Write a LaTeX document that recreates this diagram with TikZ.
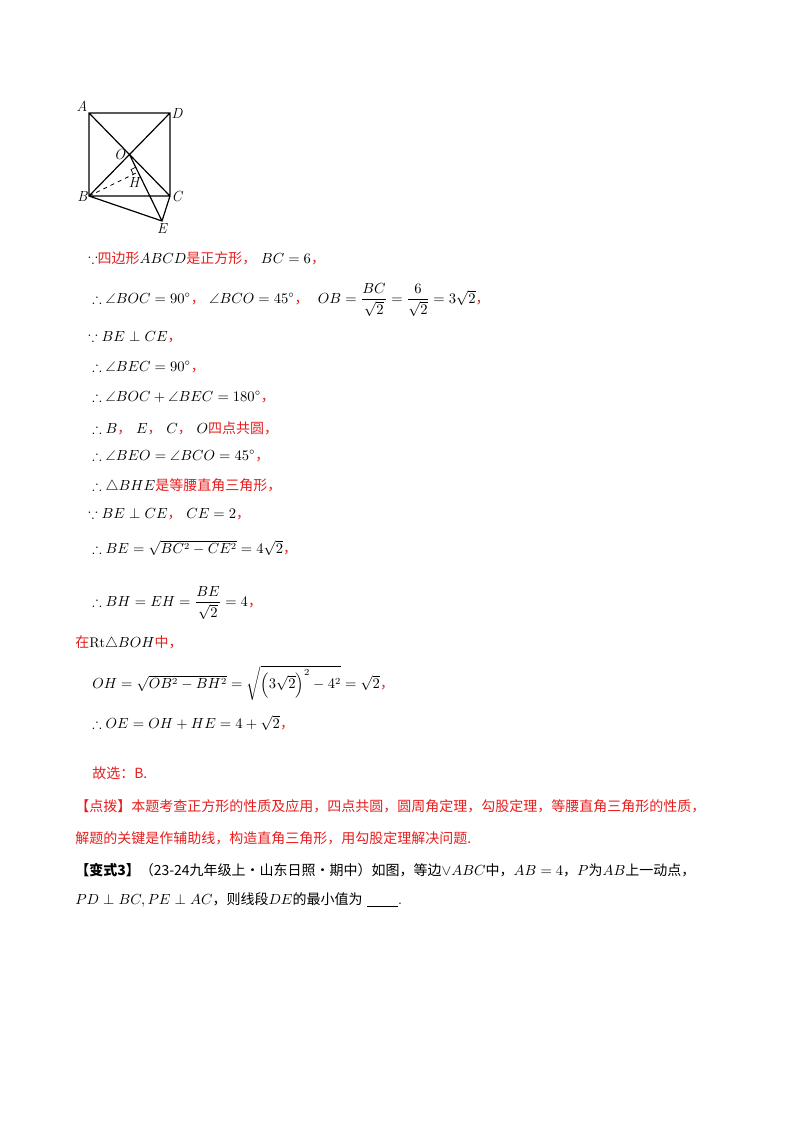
\documentclass[tikz,border=0pt]{standalone}
\usepackage{amsmath,amssymb}
\usepackage{fontspec}
\usetikzlibrary{calc}
\newfontfamily\cjk{Noto Sans CJK SC}
\definecolor{rd}{RGB}{230,30,30}
\newcommand{\R}[1]{{\color{rd}\cjk #1}}
\begin{document}
\begin{tikzpicture}[x=0.75pt,y=-0.75pt,
  ln/.style={anchor=west,inner sep=0pt,font=\fontsize{10.5}{12}\selectfont},
  lb/.style={font=\itshape\fontsize{11}{12}\selectfont,inner sep=1pt},
  seg/.style={line width=0.9pt}]
\useasboundingbox (0,0) rectangle (800,1132);
\coordinate (A) at (89,113); \coordinate (D) at (170,113);
\coordinate (B) at (89,196); \coordinate (C) at (170,196);
\coordinate (O) at (129.5,154.5); \coordinate (E) at (162,221);
\coordinate (H) at (138.1,172);
\draw[seg] (A)--(D)--(C)--(B)--cycle (A)--(C) (B)--(D) (O)--(E) (B)--(E)--(C);
\draw[dashed,line width=0.6pt] (B)--(H);
\coordinate (q1) at ($(H)!4pt!(O)$); \coordinate (q2) at ($(H)!4pt!(B)$);
\draw[line width=0.5pt] (q1) -- ($(q1)+(q2)-(H)$) -- (q2);
\path (A) node[lb,anchor=south east] {A} (D) node[lb,anchor=west] {D}
 (B) node[lb,anchor=east] {B} (C) node[lb,anchor=west] {C}
 (O) node[lb,anchor=east,xshift=-2pt] {O} (E) node[lb,anchor=north,yshift=-1pt] {E}
 (H) node[lb,anchor=north east,yshift=-3pt,xshift=2pt] {H};
\node[ln] (l1) at (88,258) {$\because$\R{四边形}$ABCD$\R{是正方形，}\ $BC=6$\R{，}};
\node[ln] (l2) at (92,300) {$\therefore\angle BOC=90^\circ$\R{，}\ $\angle BCO=45^\circ$\R{，}\ \ $OB=\dfrac{BC}{\sqrt2}=\dfrac{6}{\sqrt2}=3\sqrt2$\R{，}};
\node[ln] (l3) at (88,337) {$\because BE\perp CE$\R{，}};
\node[ln] (l4) at (92,367) {$\therefore\angle BEC=90^\circ$\R{，}};
\node[ln] (l5) at (92,397) {$\therefore\angle BOC+\angle BEC=180^\circ$\R{，}};
\node[ln] (l6) at (92,428) {$\therefore B$\R{，}\ $E$\R{，}\ $C$\R{，}\ $O$\R{四点共圆，}};
\node[ln] (l7) at (92,456) {$\therefore\angle BEO=\angle BCO=45^\circ$\R{，}};
\node[ln] (l8) at (92,486) {$\therefore\triangle BHE$\R{是等腰直角三角形，}};
\node[ln] (l9) at (88,514) {$\because BE\perp CE$\R{，}\ $CE=2$\R{，}};
\node[ln] (l10) at (92,548) {$\therefore BE=\sqrt{BC^2-CE^2}=4\sqrt2$\R{，}};
\node[ln] (l11) at (92,603) {$\therefore BH=EH=\dfrac{BE}{\sqrt2}=4$\R{，}};
\node[ln] (l12) at (75,643) {\R{在}$\mathrm{Rt}\triangle BOH$\R{中，}};
\node[ln] (l13) at (92,683) {$OH=\sqrt{OB^2-BH^2}=\sqrt{\left(3\sqrt2\right)^2-4^2}=\sqrt2$\R{，}};
\node[ln] (l14) at (92,723) {$\therefore OE=OH+HE=4+\sqrt2$\R{，}};
\node[ln] (l15) at (92,773) {\R{故选：B.}};
\node[ln] (l16) at (75,806) {\R{【点拨】本题考查正方形的性质及应用，四点共圆，圆周角定理，勾股定理，等腰直角三角形的性质，}};
\node[ln] (l17) at (75,838) {\R{解题的关键是作辅助线，构造直角三角形，用勾股定理解决问题.}};
\node[ln] (l18) at (75,870) {{\cjk\bfseries 【变式3】}{\cjk （23-24九年级上·山东日照·期中）如图，等边}$\vee ABC${\cjk 中，}$AB=4${\cjk ，}$P${\cjk 为}$AB${\cjk 上一动点，}};
\node[ln] (l19) at (75,900) {$PD\perp BC,PE\perp AC${\cjk ，则线段}$DE${\cjk 的最小值为}\ \underline{\hspace{2.2em}}.};
\end{tikzpicture}
\end{document}
